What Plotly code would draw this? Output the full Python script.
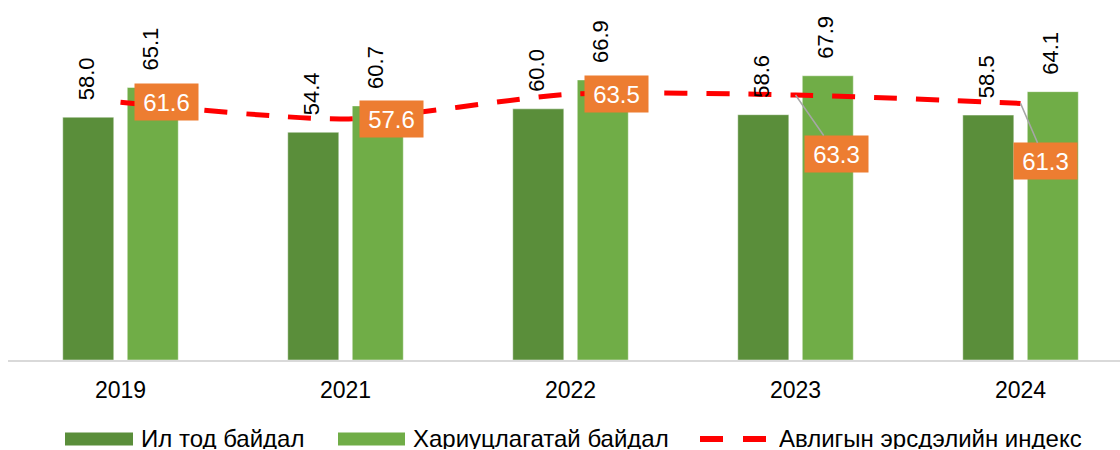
import plotly.graph_objects as go

years = ["2019", "2021", "2022", "2023", "2024"]
transparency = [58.0, 54.4, 60.0, 58.6, 58.5]
accountability = [65.1, 60.7, 66.9, 67.9, 64.1]
risk_index = [61.6, 57.6, 63.5, 63.3, 61.3]

name_a = "Ил тод байдал"
name_b = "Хариуцлагатай байдал"
name_c = "Авлигын эрсдэлийн индекс"

DARK = "#5A8E3A"
LIGHT = "#70AD47"
ORANGE = "#ED7D31"
RED = "#FF0000"
FONT = "Arial, Liberation Sans, sans-serif"

W, H = 1120, 450
ML, MR, MT, MB = 8, 0, 0, 90
PW, PH = W - ML - MR, H - MT - MB


def px(x):
    return (x - ML) / PW


def py(y):
    return (H - MB - y) / PH


fig = go.Figure()
fig.add_trace(go.Bar(x=years, y=transparency, name=name_a, marker_color=DARK,
                     marker_line=dict(color="rgba(255,255,255,0.45)", width=1),
                     showlegend=False))
fig.add_trace(go.Bar(x=years, y=accountability, name=name_b, marker_color=LIGHT,
                     marker_line=dict(color="rgba(255,255,255,0.45)", width=1),
                     showlegend=False))
fig.add_trace(go.Scatter(x=years, y=risk_index, name=name_c, mode="lines",
                         line=dict(color=RED, width=5, dash="23px,19px",
                                   shape="spline", smoothing=0.7),
                         showlegend=False))

annotations = []
# bar value labels (rotated)
for i, v in enumerate(transparency):
    annotations.append(dict(x=i, y=v, xref="x", yref="y", text=f"{v:.1f}", textangle=-90,
                            showarrow=False, xanchor="center", yanchor="bottom",
                            xshift=-34, yshift=15,
                            font=dict(family=FONT, size=22, color="#000000")))
for i, v in enumerate(accountability):
    annotations.append(dict(x=i, y=v, xref="x", yref="y", text=f"{v:.1f}", textangle=-90,
                            showarrow=False, xanchor="center", yanchor="bottom",
                            xshift=30, yshift=15,
                            font=dict(family=FONT, size=22, color="#000000")))

# index labels (orange boxes)
offsets = [(46, 0), (46, 0), (46, 0), (41, 59), (25, 58)]
for i, (v, (dx, dy)) in enumerate(zip(risk_index, offsets)):
    common = dict(x=i, y=v, xref="x", yref="y", text=f"{v:.1f}", bgcolor=ORANGE,
                  font=dict(family=FONT, size=24, color="#FFFFFF"),
                  width=55, height=28, borderpad=4, align="center")
    if dy == 0:
        annotations.append(dict(**common, showarrow=False, xshift=dx))
    else:
        annotations.append(dict(**common, showarrow=True, arrowhead=0,
                                arrowwidth=1.5, arrowcolor="#A6A6A6",
                                ax=dx, ay=dy, standoff=0))

# custom legend
leg_y = 438.5
shapes = [
    dict(type="rect", xref="paper", yref="paper", x0=px(65), x1=px(133),
         y0=py(445.5), y1=py(432.5), fillcolor=DARK, line=dict(width=0)),
    dict(type="rect", xref="paper", yref="paper", x0=px(338), x1=px(405),
         y0=py(445.5), y1=py(432.5), fillcolor=LIGHT, line=dict(width=0)),
    dict(type="line", xref="paper", yref="paper", x0=px(700), x1=px(766),
         y0=py(439), y1=py(439), line=dict(color=RED, width=6, dash="23px,20px")),
]
for xs, txt in [(139, name_a), (411, name_b), (777, name_c)]:
    annotations.append(dict(xref="paper", yref="paper", x=px(xs), y=py(leg_y),
                            text=txt, showarrow=False, xanchor="left",
                            yanchor="middle", height=22, valign="middle",
                            font=dict(family=FONT, size=24, color="#000000")))

fig.update_layout(
    width=W, height=H,
    margin=dict(l=ML, r=MR, t=MT, b=MB, pad=0),
    paper_bgcolor="white", plot_bgcolor="white",
    barmode="group", bargap=0.4267, bargroupgap=0.209,
    annotations=annotations, shapes=shapes,
    showlegend=False,
    xaxis=dict(type="category", range=[-0.5, 4.442], showgrid=False,
               showline=True, linecolor="#D9D9D9", linewidth=2,
               ticks="", ticklabelstandoff=8,
               tickfont=dict(family=FONT, size=23, color="#000000")),
    yaxis=dict(range=[0, 86], showgrid=False, zeroline=False,
               showticklabels=False, showline=False),
)

fig.write_html("out.html", config={"displayModeBar": False},
               post_script="document.body.style.margin='0';document.body.style.overflow='hidden';")
